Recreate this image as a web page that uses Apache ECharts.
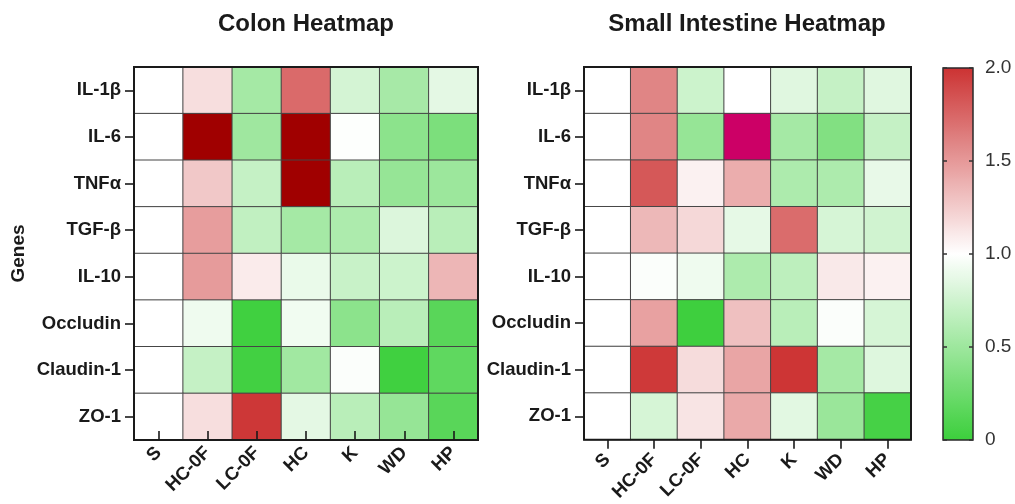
<!DOCTYPE html>
<html>
<head>
<meta charset="utf-8">
<script src="https://cdn.jsdelivr.net/npm/echarts@6/dist/echarts.min.js"></script>
<style>
  html, body { margin: 0; padding: 0; background: #ffffff; }
  #chart { width: 1015px; height: 504px; }
</style>
</head>
<body>
<div id="chart"></div>
<script>
// Relative expression (fold change vs. S) per gene and group
const genes = ['IL-1β', 'IL-6', 'TNFα', 'TGF-β', 'IL-10', 'Occludin', 'Claudin-1', 'ZO-1'];
const groups = ['S', 'HC-0F', 'LC-0F', 'HC', 'K', 'WD', 'HP'];

// rows follow `genes`, columns follow `groups`
const colonValues = [
  [1.00, 1.16, 0.54, 1.73, 0.78, 0.55, 0.86],
  [1.00, 2.60, 0.51, 2.80, 0.99, 0.41, 0.33],
  [1.00, 1.27, 0.70, 2.50, 0.64, 0.46, 0.49],
  [1.00, 1.48, 0.68, 0.54, 0.58, 0.82, 0.64],
  [1.00, 1.49, 1.10, 0.89, 0.72, 0.74, 1.36],
  [1.00, 0.92, 0.02, 0.93, 0.41, 0.64, 0.15],
  [1.00, 0.70, 0.03, 0.52, 0.98, 0.02, 0.18],
  [1.00, 1.16, 1.98, 0.86, 0.64, 0.46, 0.15]
];
const intestineValues = [
  [1.00, 1.60, 0.74, 1.00, 0.84, 0.70, 0.84],
  [1.00, 1.60, 0.46, 2.40, 0.54, 0.36, 0.70],
  [1.00, 1.82, 1.07, 1.40, 0.58, 0.58, 0.88],
  [1.00, 1.35, 1.19, 0.87, 1.72, 0.79, 0.76],
  [1.00, 0.98, 0.92, 0.58, 0.66, 1.11, 1.07],
  [1.00, 1.46, 0.01, 1.31, 0.64, 0.98, 0.79],
  [1.00, 1.97, 1.17, 1.44, 1.99, 0.54, 0.83],
  [1.00, 0.79, 1.13, 1.42, 0.85, 0.48, 0.05]
];
const scaleTicks = ['0', '0.5', '1.0', '1.5', '2.0'];

const FONT = "'Liberation Sans', Arial, sans-serif";
const INK = '#1a1a1a';

function toCells(rows) {
  const cells = [];
  rows.forEach((row, g) => row.forEach((v, c) => cells.push([c, g, v])));
  return cells;
}

const palette = ['#3ccf3c', '#ffffff', '#cc3333'];

const catLabel = {
  color: INK, fontFamily: FONT, fontWeight: 'bold', fontSize: 18.5
};

function groupAxis(gridIndex, inside, margin) {
  return {
    type: 'category', gridIndex, data: groups, z: 8,
    axisLine: { show: false },
    axisTick: { show: true, inside, length: 9, alignWithLabel: true, lineStyle: { color: INK, width: 1.6 } },
    axisLabel: Object.assign({ rotate: 45, margin, interval: 0 }, catLabel),
    splitLine: { show: false }
  };
}

function geneAxis(gridIndex, withName) {
  const ax = {
    type: 'category', gridIndex, data: genes, inverse: true, z: 8,
    axisLine: { show: false },
    axisTick: { show: true, length: 9, alignWithLabel: true, lineStyle: { color: INK, width: 1.6 } },
    axisLabel: Object.assign({ margin: 13, interval: 0 }, catLabel),
    splitLine: { show: false }
  };
  if (withName) {
    Object.assign(ax, {
      name: 'Genes', nameLocation: 'middle', nameRotate: 90, nameGap: 106,
      nameTextStyle: { color: INK, fontFamily: FONT, fontWeight: 'bold', fontSize: 19 }
    });
  }
  return ax;
}

function scaleAxis(position, showLabels) {
  return {
    type: 'value', gridIndex: 2, position, min: 0, max: 2, interval: 0.5, z: 12,
    axisLine: { show: false },
    axisTick: { show: true, inside: true, length: 4, lineStyle: { color: '#333', width: 1.5 } },
    axisLabel: {
      show: showLabels, margin: 12, color: '#333', fontFamily: FONT, fontSize: 19,
      formatter: (v) => scaleTicks[Math.round(v / 0.5)]
    },
    splitLine: { show: false }
  };
}

const chart = echarts.init(document.getElementById('chart'), null, { renderer: 'canvas' });

const gridFrame = { show: true, borderColor: INK, borderWidth: 2, backgroundColor: 'transparent', z: 5 };

chart.setOption({
  animation: false,
  backgroundColor: '#ffffff',
  title: [
    { text: 'Colon Heatmap', left: 306, top: 12, textAlign: 'center', padding: 0,
      textStyle: { fontFamily: FONT, fontWeight: 'bold', fontSize: 24, color: INK } },
    { text: 'Small Intestine Heatmap', left: 747, top: 12, textAlign: 'center', padding: 0,
      textStyle: { fontFamily: FONT, fontWeight: 'bold', fontSize: 24, color: INK } }
  ],
  grid: [
    Object.assign({ left: 134, top: 67, width: 344, height: 373 }, gridFrame),
    Object.assign({ left: 584, top: 67, width: 327, height: 373 }, gridFrame),
    { show: true, left: 943, top: 68, width: 30, height: 372, borderColor: '#2a2a2a', borderWidth: 1.5,
      backgroundColor: 'transparent', z: 10 }
  ],
  xAxis: [
    groupAxis(0, true, 10),
    groupAxis(1, false, 17),
    { type: 'value', gridIndex: 2, min: 0, max: 1, show: false }
  ],
  yAxis: [
    geneAxis(0, true),
    geneAxis(1, false),
    scaleAxis('left', false),
    scaleAxis('right', true)
  ],
  visualMap: [
    {
      type: 'continuous', seriesIndex: 0, show: false,
      min: 0, max: 2, range: [0, 1.999],
      inRange: { color: palette }, outOfRange: { color: '#a00000' }
    },
    {
      type: 'continuous', seriesIndex: 1, show: true, calculable: false, hoverLink: false,
      min: 0, max: 2, range: [0, 1.999],
      left: 943, top: 68, itemWidth: 30, itemHeight: 372, padding: 0,
      orient: 'vertical', text: null, showLabel: false,
      inRange: { color: palette }, outOfRange: { color: '#cc0066' }
    }
  ],
  series: [
    {
      type: 'heatmap', xAxisIndex: 0, yAxisIndex: 0, data: toCells(colonValues),
      itemStyle: { borderColor: '#454545', borderWidth: 1 },
      emphasis: { disabled: true }
    },
    {
      type: 'heatmap', xAxisIndex: 1, yAxisIndex: 1, data: toCells(intestineValues),
      itemStyle: { borderColor: '#454545', borderWidth: 1 },
      emphasis: { disabled: true }
    }
  ]
});
</script>
</body>
</html>
